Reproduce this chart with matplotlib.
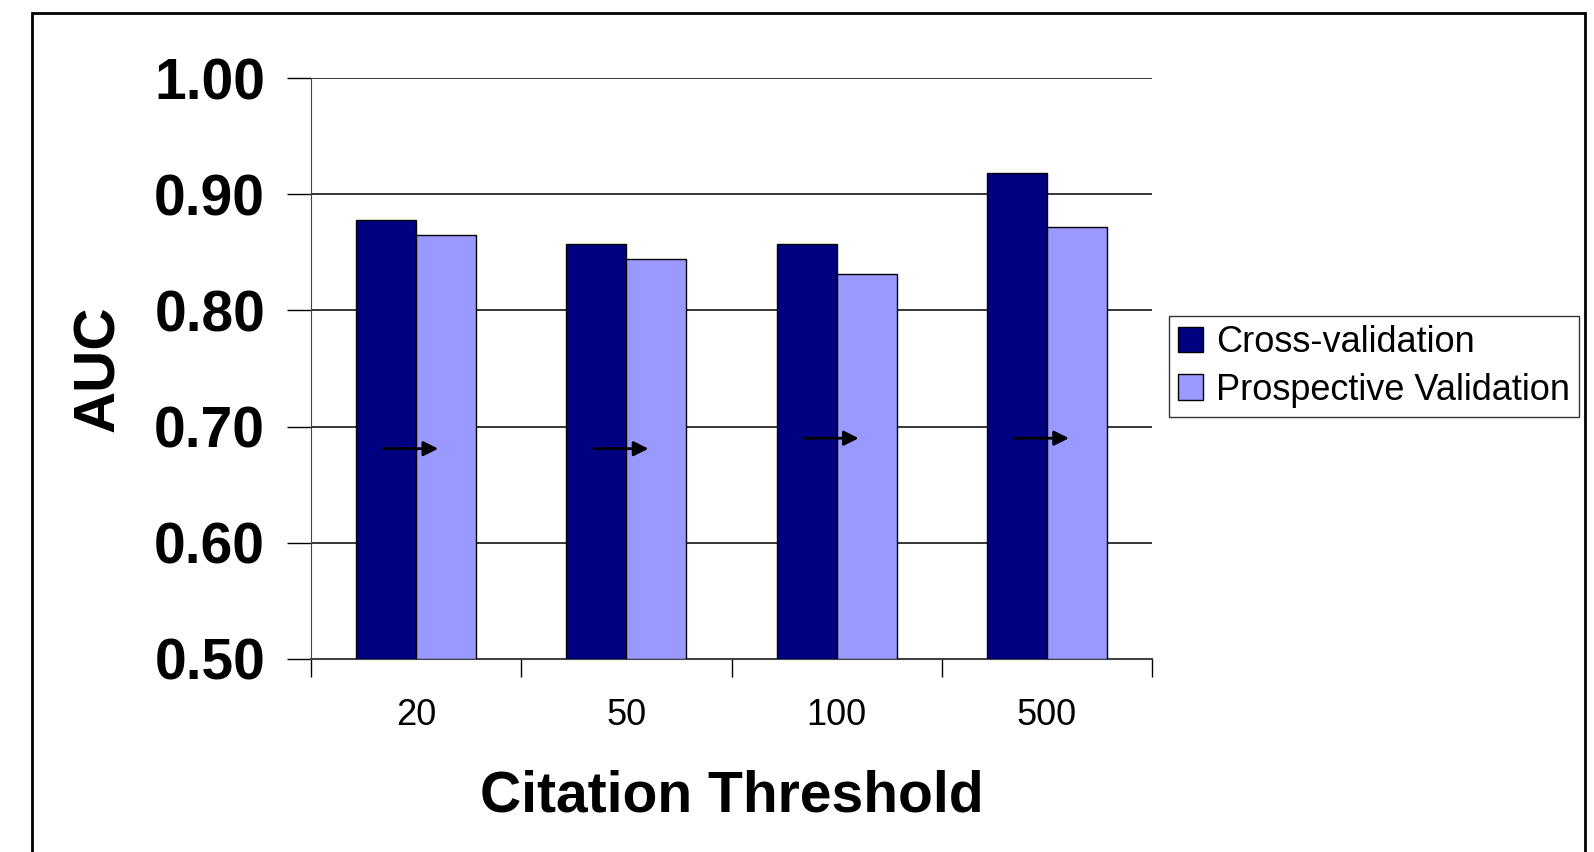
import numpy as np
import matplotlib.pyplot as plt
from matplotlib.patches import Rectangle

plt.rcParams['font.family'] = ['Liberation Sans', 'DejaVu Sans']

thresholds = ["20", "50", "100", "500"]
cross_val = [0.878, 0.857, 0.857, 0.918]
prospective = [0.865, 0.844, 0.831, 0.872]
arrow_y = [0.681, 0.681, 0.690, 0.690]
yticks = [0.50, 0.60, 0.70, 0.80, 0.90, 1.00]

fig = plt.figure(figsize=(15.94, 8.52), dpi=100)
ax = fig.add_axes([311 / 1594, 1 - 659 / 852, (1152 - 311) / 1594, (659 - 78) / 852])

x = np.arange(len(thresholds))
w = 0.2857
ax.bar(x - w / 2, np.array(cross_val) - 0.5, w, bottom=0.5, color="#000080",
       edgecolor="black", linewidth=1, label="Cross-validation", zorder=3)
ax.bar(x + w / 2, np.array(prospective) - 0.5, w, bottom=0.5, color="#9999ff",
       edgecolor="black", linewidth=1, label="Prospective Validation", zorder=3)

# arrows drawn over each group
for xi, yv in zip(x, arrow_y):
    ax.annotate("", xy=(xi + 0.105, yv), xytext=(xi - 0.155, yv),
                arrowprops=dict(arrowstyle="-|>", color="black", lw=2,
                                mutation_scale=22, shrinkA=0, shrinkB=0),
                zorder=4)

ax.set_xlim(-0.5, len(thresholds) - 0.5)
ax.set_ylim(0.5, 1.0)
ax.set_yticks(yticks)
ax.set_yticklabels(["%.2f" % v for v in yticks], fontsize=41, fontweight="bold")
ax.set_xticks(np.arange(len(thresholds) + 1) - 0.5)
ax.set_xticklabels([])
ax.set_xticks(x, minor=True)
ax.set_xticklabels(thresholds, minor=True, fontsize=26)
ax.tick_params(axis="x", which="minor", length=0, pad=28)
ax.tick_params(axis="x", which="major", length=13, width=1, direction="out")
ax.tick_params(axis="y", length=17, width=1, direction="out", pad=16)
ax.yaxis.grid(True, color="black", linewidth=1.1)
ax.set_axisbelow(True)
for s in ["top", "right"]:
    ax.spines[s].set_visible(False)
ax.spines["left"].set_color("#444444")
ax.spines["bottom"].set_color("#444444")
ax.spines["bottom"].set_linewidth(1.5)

ax.set_xlabel("Citation Threshold", fontsize=41, fontweight="bold", labelpad=26)
ax.set_ylabel("AUC", fontsize=42, fontweight="bold", labelpad=20)

leg = ax.legend(loc="upper left", bbox_to_anchor=(1169 / 1594, 1 - 316 / 852),
                bbox_transform=fig.transFigure, fontsize=26, frameon=True,
                fancybox=False, edgecolor="black", handlelength=0.7,
                handleheight=0.7, handletextpad=0.35, borderpad=0.25,
                labelspacing=0.35, borderaxespad=0)
leg.get_frame().set_linewidth(1)

fig.patches.append(Rectangle((32 / 1594, -0.1), (1585 - 32) / 1594, 1.1 - 13 / 852,
                             transform=fig.transFigure, fill=False,
                             edgecolor="black", linewidth=2))

fig.savefig("out.png", dpi=100)
